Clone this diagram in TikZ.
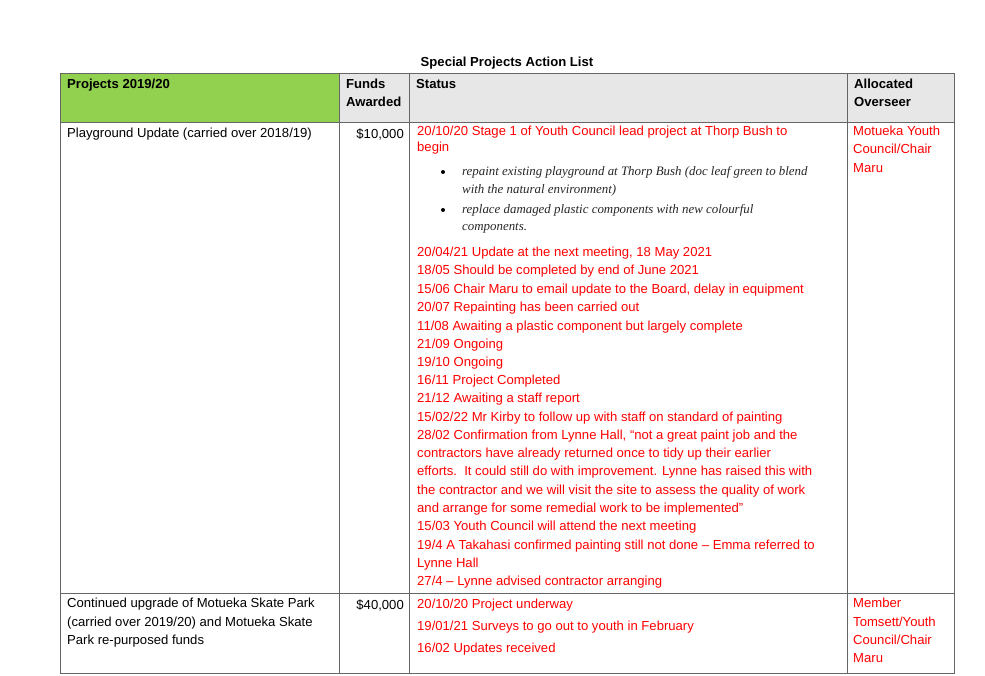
\documentclass[tikz,border=0pt]{standalone}
\usepackage{fontspec}
\setmainfont{Liberation Sans}
\newfontfamily\serifit{Liberation Serif}
\usetikzlibrary{positioning}
\definecolor{hdrgreen}{RGB}{146,208,80}
\definecolor{hdrgrey}{RGB}{231,231,231}
\definecolor{stred}{RGB}{255,0,0}
\begin{document}
\begin{tikzpicture}[x=1pt,y=-1pt,
		cell/.style={anchor=west,inner sep=0pt,font=\fontsize{13.1}{18.3}\selectfont},
		redline/.style={cell,text=stred},
		bullet/.style={anchor=west,inner sep=0pt,font=\fontsize{12.9}{18}\serifit\itshape,text=black!85},
		hdr/.style={cell,font=\fontsize{13.1}{18.3}\selectfont\bfseries,align=left,anchor=north west}
		]
	\useasboundingbox (0,0) rectangle (985,675);
	% header fills
	\fill[hdrgreen] (60,73) rectangle (339,122);
	\fill[hdrgrey] (339,73) rectangle (954,122);
	% grid
	\draw[black!60] (60,73) rectangle (954,673);
	\draw[black!60] (60,122) -- (954,122);
	\draw[black!60] (60,593) -- (954,593);
	\foreach \xc in {339,409,847} \draw[black!60] (\xc,73) -- (\xc,673);
	% title
	\node[cell,anchor=center,font=\fontsize{13.1}{18}\selectfont\bfseries] (title) at (507,63) {Special Projects Action List};
	% header
	\node[hdr] (hproj) at (67,79) {Projects 2019/20};
	\node[hdr] (hfund) at (346,79) {Funds\\Awarded};
	\node[hdr] (hstat) at (416,79) {Status};
	\node[hdr] (hover) at (854,79) {Allocated\\Overseer};
	% row 1
	\node[cell] (p1) at (67,134) {Playground Update (carried over 2018/19)};
	\node[cell,anchor=east] (f1) at (404,134) {\$10,000};
	\node[cell,anchor=north west,align=left,text=stred] (o1) at (853,126) {Motueka Youth\\Council/Chair\\Maru};
	\node[redline] (s1a) at (417,132) {20/10/20 Stage 1 of Youth Council lead project at Thorp Bush to};
	\node[redline] (s1b) at (417,148) {begin};
	\foreach \yb/\tb [count=\i] in {
		172/{repaint existing playground at Thorp Bush (doc leaf green to blend},
		190/{with the natural environment)},
		210/{replace damaged plastic components with new colourful},
		228/{components.}}
		\node[bullet] (b\i) at (462,\yb) {\tb};
	\fill (443,172) circle (2);
	\fill (443,210) circle (2);
	\foreach \yl/\tl [count=\i] in {
		253/{20/04/21 Update at the next meeting, 18 May 2021},
		271/{18/05 Should be completed by end of June 2021},
		290/{15/06 Chair Maru to email update to the Board, delay in equipment},
		308/{20/07 Repainting has been carried out},
		327/{11/08 Awaiting a plastic component but largely complete},
		345/{21/09 Ongoing},
		363/{19/10 Ongoing},
		381/{16/11 Project Completed},
		399/{21/12 Awaiting a staff report},
		418/{15/02/22 Mr Kirby to follow up with staff on standard of painting},
		436/{28/02 Confirmation from Lynne Hall, “not a great paint job and the},
		454/{contractors have already returned once to tidy up their earlier},
		472/{efforts.\ \ It could still do with improvement. Lynne has raised this with},
		491/{the contractor and we will visit the site to assess the quality of work},
		509/{and arrange for some remedial work to be implemented”},
		527/{15/03 Youth Council will attend the next meeting},
		546/{19/4 A Takahasi confirmed painting still not done – Emma referred to},
		564/{Lynne Hall},
		582/{27/4 – Lynne advised contractor arranging}}
		\node[redline] (u\i) at (417,\yl) {\tl};
	% row 2
	\node[cell,anchor=north west,align=left] (p2) at (67,598) {Continued upgrade of Motueka Skate Park\\(carried over 2019/20) and Motueka Skate\\Park re-purposed funds};
	\node[cell,anchor=east] (f2) at (404,605) {\$40,000};
	\node[redline] (s2a) at (417,605) {20/10/20 Project underway};
	\node[redline] (s2b) at (417,627) {19/01/21 Surveys to go out to youth in February};
	\node[redline] (s2c) at (417,649) {16/02 Updates received};
	\node[cell,anchor=north west,align=left,text=stred] (o2) at (853,598) {Member\\Tomsett/Youth\\Council/Chair\\Maru};
\end{tikzpicture}
\end{document}
